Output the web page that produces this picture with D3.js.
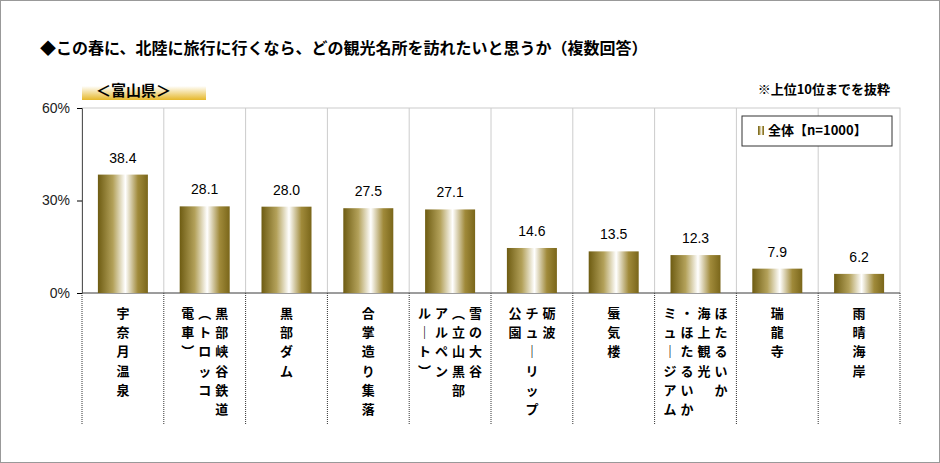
<!DOCTYPE html>
<html>
<head>
<meta charset="utf-8">
<script src="https://d3js.org/d3.v7.min.js"></script>
<style>
  body { margin: 0; background: #fff; }
  text { font-family: "Noto Sans CJK JP", sans-serif; }
</style>
</head>
<body>
<div id="chart"></div>
<script>
// data
var categories = [
  ["宇奈月温泉"],
  ["黒部峡谷鉄道", "（トロッコ", "電車）"],
  ["黒部ダム"],
  ["合掌造り集落"],
  ["雪の大谷", "（立山黒部", "アルペン", "ルート）"],
  ["砺波", "チューリップ", "公園"],
  ["蜃気楼"],
  ["ほたるいか", "海上観光", "・ほたるいか", "ミュージアム"],
  ["瑞龍寺"],
  ["雨晴海岸"]
];
var values = [38.4, 28.1, 28.0, 27.5, 27.1, 14.6, 13.5, 12.3, 7.9, 6.2];
var yTicks = [0, 30, 60];

var width = 940, height = 463;
var mLeft = 82, mRight = 900, mTop = 108, mBottom = 293, labelBottom = 425;

var svg = d3.select("#chart").append("svg")
  .attr("width", width).attr("height", height);

svg.append("rect").attr("x", 0.5).attr("y", 0.5).attr("width", width - 1).attr("height", height - 1)
  .attr("fill", "#fff").attr("stroke", "#999");

var defs = svg.append("defs");
var g = defs.append("linearGradient").attr("id", "bar").attr("x1", 0).attr("x2", 1).attr("y1", 0).attr("y2", 0);
[[0, "#6e5c12"], [0.3, "#b3a15a"], [0.55, "#ffffff"], [0.8, "#a08a3a"], [1, "#7a661a"]].forEach(function (s) {
  g.append("stop").attr("offset", s[0]).attr("stop-color", s[1]);
});
var hl = defs.append("linearGradient").attr("id", "hl").attr("x1", 0).attr("x2", 0).attr("y1", 0).attr("y2", 1);
hl.append("stop").attr("offset", 0).attr("stop-color", "#fff");
hl.append("stop").attr("offset", 1).attr("stop-color", "#e6b82a");

var x = d3.scaleBand().domain(d3.range(values.length)).range([mLeft, mRight]);
var y = d3.scaleLinear().domain([0, 60]).range([mBottom, mTop]);

// title
svg.append("text").attr("x", 40).attr("y", 54).attr("font-size", 16).attr("font-weight", "bold")
  .text("◆この春に、北陸に旅行に行くなら、どの観光名所を訪れたいと思うか（複数回答）");
svg.append("rect").attr("x", 82).attr("y", 86).attr("width", 124).attr("height", 14).attr("fill", "url(#hl)");
svg.append("text").attr("x", 96).attr("y", 96).attr("font-size", 15).attr("font-weight", "bold").text("＜富山県＞");
svg.append("text").attr("x", 890).attr("y", 94).attr("text-anchor", "end").attr("font-size", 13)
  .attr("font-weight", "bold").text("※上位10位までを抜粋");

// plot frame and separators
svg.append("rect").attr("x", mLeft).attr("y", mTop).attr("width", mRight - mLeft).attr("height", mBottom - mTop)
  .attr("fill", "none").attr("stroke", "#ccc");
d3.range(1, values.length).forEach(function (i) {
  var xx = x(i);
  svg.append("line").attr("x1", xx).attr("x2", xx).attr("y1", mTop).attr("y2", mBottom).attr("stroke", "#ccc");
});
d3.range(0, values.length + 1).forEach(function (i) {
  var xx = i === values.length ? mRight : x(i);
  svg.append("line").attr("x1", xx).attr("x2", xx).attr("y1", mBottom).attr("y2", labelBottom)
    .attr("stroke", "#333").attr("stroke-dasharray", "1,1");
});

// y axis
svg.append("g").attr("transform", "translate(" + mLeft + ",0)")
  .call(d3.axisLeft(y).tickValues(yTicks).tickSize(5).tickFormat(function (d) { return d + "%"; }))
  .call(function (a) {
    a.select(".domain").attr("stroke", "#555");
    a.selectAll("text").attr("font-size", 14).attr("fill", "#222").attr("dx", -4).style("font-family", "Arial, 'Liberation Sans'");
  });
svg.append("line").attr("x1", mLeft).attr("x2", mRight).attr("y1", mBottom).attr("y2", mBottom).attr("stroke", "#555");

// bars
var bw = 50;
svg.selectAll(".bar").data(values).enter().append("rect")
  .attr("x", function (d, i) { return x(i) + (x.bandwidth() - bw) / 2; })
  .attr("y", function (d) { return y(d); })
  .attr("width", bw)
  .attr("height", function (d) { return mBottom - y(d); })
  .attr("fill", "url(#bar)");
svg.selectAll(".val").data(values).enter().append("text")
  .attr("x", function (d, i) { return x(i) + x.bandwidth() / 2; })
  .attr("y", function (d) { return y(d) - 12; })
  .attr("text-anchor", "middle").attr("font-size", 14)
  .style("font-family", "Arial, 'Liberation Sans'")
  .text(function (d) { return d.toFixed(1); });

// vertical labels (vertical presentation forms for brackets / long vowel)
var vmap = { "（": "︵", "）": "︶", "ー": "｜" };
categories.forEach(function (lines, i) {
  var cx = x(i) + x.bandwidth() / 2;
  var n = lines.length, colW = 17;
  lines.forEach(function (line, j) {
    var colX = cx + ((n - 1) / 2 - j) * colW;
    Array.from(line).forEach(function (ch, k) {
      svg.append("text").attr("x", colX).attr("y", 318 + k * 19.2)
        .attr("text-anchor", "middle").attr("font-size", 13).attr("font-weight", "bold")
        .text(vmap[ch] || ch);
    });
  });
});

// legend
svg.append("rect").attr("x", 742).attr("y", 116).attr("width", 150).attr("height", 30)
  .attr("fill", "#fff").attr("stroke", "#333");
svg.append("rect").attr("x", 758).attr("y", 126).attr("width", 6).attr("height", 9).attr("fill", "url(#bar)");
svg.append("text").attr("x", 768).attr("y", 135).attr("font-size", 13).attr("font-weight", "bold").text("全体【n=1000】");
</script>
</body>
</html>
